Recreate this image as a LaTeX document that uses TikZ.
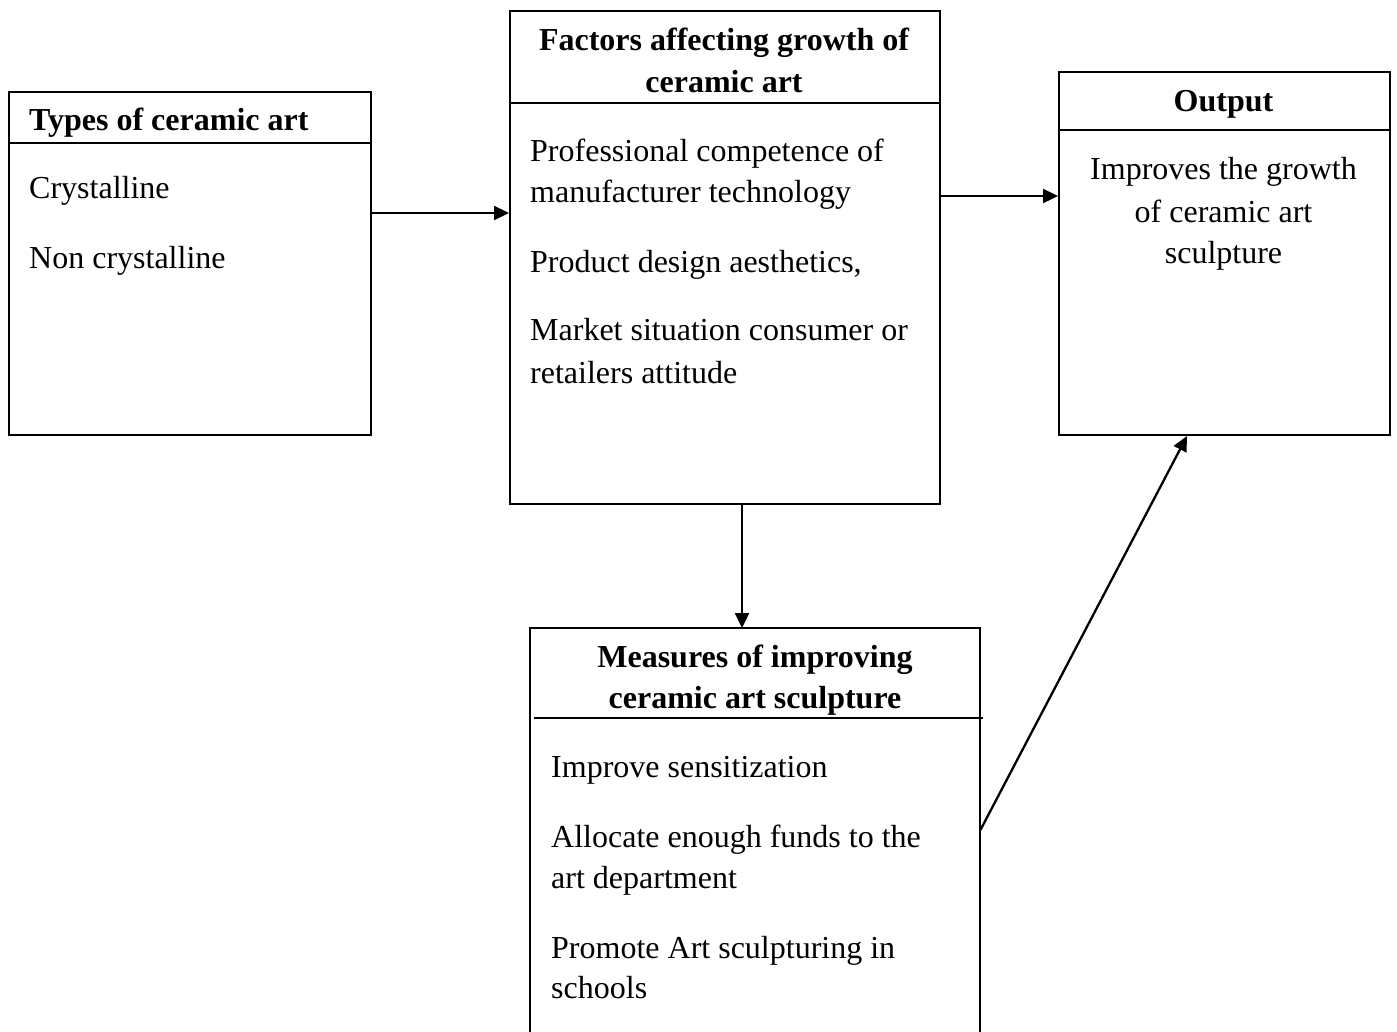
\documentclass[tikz,border=0pt]{standalone}
\usepackage{fontspec}
\setmainfont{Liberation Serif}
\usetikzlibrary{arrows.meta}
\begin{document}
\begin{tikzpicture}[x=1pt,y=-1pt,
  box/.style={draw, line width=2pt, rectangle, inner sep=0pt, anchor=north west},
  txt/.style={anchor=base west, inner sep=0pt, font=\fontsize{32}{41.5}\selectfont},
  ctxt/.style={anchor=base, inner sep=0pt, font=\fontsize{32}{41.5}\selectfont},
  ttl/.style={anchor=base, inner sep=0pt, font=\fontsize{32}{41.5}\selectfont\bfseries},
  ttlw/.style={anchor=base west, inner sep=0pt, font=\fontsize{32}{41.5}\selectfont\bfseries},
  sep/.style={line width=2pt},
  arr/.style={line width=2.3pt, -{Triangle[length=15pt,width=14pt]}}]
\clip (0,0) rectangle (1397,1031);
\fill[white] (0,0) rectangle (1397,1031);

% Box A
\node[box, minimum width=362pt, minimum height=343pt] (A) at (8,91) {};
\draw[sep] (8,143) -- (370,143);
\node[ttlw] (At) at (29,130) {Types of ceramic art};
\node[txt] (A1) at (29,198) {Crystalline};
\node[txt] (A2) at (29,268) {Non crystalline};

% Box B
\node[box, minimum width=430pt, minimum height=493pt] (B) at (509,10) {};
\draw[sep] (509,103) -- (939,103);
\node[ttl] (Bt1) at (724,50) {Factors affecting growth of};
\node[ttl] (Bt2) at (724,92) {ceramic art};
\node[txt] (B1) at (530,161) {Professional competence of};
\node[txt] (B2) at (530,202) {manufacturer technology};
\node[txt] (B3) at (530,272) {Product design aesthetics,};
\node[txt] (B4) at (530,340) {Market situation consumer or};
\node[txt] (B5) at (530,383) {retailers attitude};

% Box C
\node[box, minimum width=331pt, minimum height=363pt] (C) at (1058,71) {};
\draw[sep] (1058,130) -- (1389,130);
\node[ttl] (Ct) at (1223.5,111) {Output};
\node[ctxt] (C1) at (1223.5,179) {Improves the growth};
\node[ctxt] (C2) at (1223.5,222) {of ceramic art};
\node[ctxt] (C3) at (1223.5,263) {sculpture};

% Box D (runs off the bottom)
\node[anchor=north west, inner sep=0pt, minimum width=450pt, minimum height=420pt] (D) at (530,628) {};
\draw[line width=2pt] (D.south west) -- (D.north west) -- (D.north east) -- (D.south east);
\draw[sep] (534,718) -- (983,718);
\node[ttl] (Dt1) at (755,667) {Measures of improving};
\node[ttl] (Dt2) at (755,708) {ceramic art sculpture};
\node[txt] (D1) at (551,777) {Improve sensitization};
\node[txt] (D2) at (551,847) {Allocate enough funds to the};
\node[txt] (D3) at (551,888) {art department};
\node[txt] (D4) at (551,958) {Promote Art sculpturing in};
\node[txt] (D5) at (551,998) {schools};

% connectors
\coordinate (ay) at (0,213);
\coordinate (cy) at (0,196);
\coordinate (bx) at (742,0);
\coordinate (dy) at (0,830);
\coordinate (cx) at (1187,0);
\draw[arr] (A.east |- ay) -- (B.west |- ay);
\draw[arr] (B.east |- cy) -- (C.west |- cy);
\draw[arr] (bx |- B.south) -- (bx |- D.north);
\draw[arr] (D.east |- dy) -- (cx |- C.south);
\end{tikzpicture}
\end{document}
